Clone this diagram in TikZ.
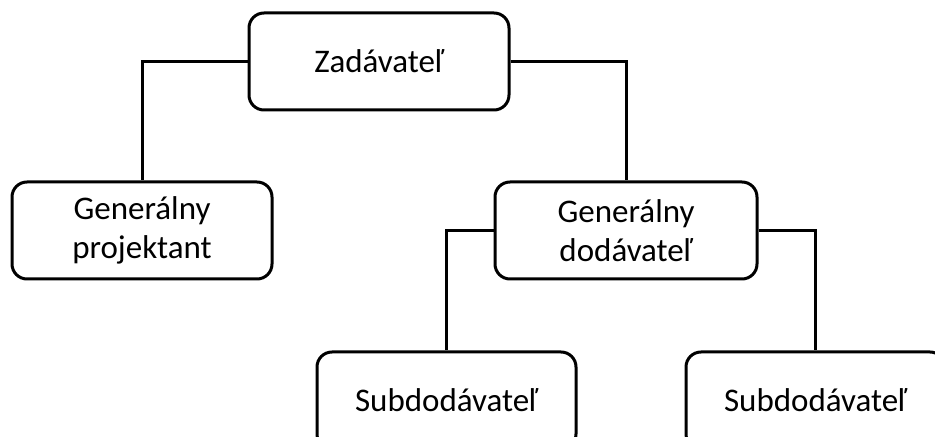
\documentclass[tikz,border=0pt]{standalone}
\usepackage{fontspec}
\setmainfont{Carlito}
\begin{document}
\begin{tikzpicture}[x=1pt,y=-1pt,
  box/.style={draw, line width=3pt, rounded corners=15pt, align=center,
    font=\fontsize{33}{39}\selectfont, inner sep=0pt,
    minimum height=97pt, minimum width=260pt},
  link/.style={line width=3pt}]
\useasboundingbox (0,0) rectangle (935,443);
\begin{scope}
  \clip (0,0) rectangle (935,437);
  % organisation chart boxes
  \node[box] (zad)  at (379,61.5)   {Zadávateľ};
  \node[box] (proj) at (142,230.5)  {Generálny\\projektant};
  \node[box, minimum width=262pt] (gen) at (626,230.5) {Generálny\\dodávateľ};
  \node[box, minimum width=259pt] (sub1) at (446.5,400.5) {Subdodávateľ};
  \node[box, minimum width=259pt] (sub2) at (815.5,400.5) {Subdodávateľ};
  % connectors
  \draw[link] (zad.west) -| (proj.north);
  \draw[link] (zad.east) -| (gen.north);
  \draw[link] (gen.west) -| (sub1.north);
  \draw[link] (gen.east) -| (sub2.north);
\end{scope}
\end{tikzpicture}
\end{document}
